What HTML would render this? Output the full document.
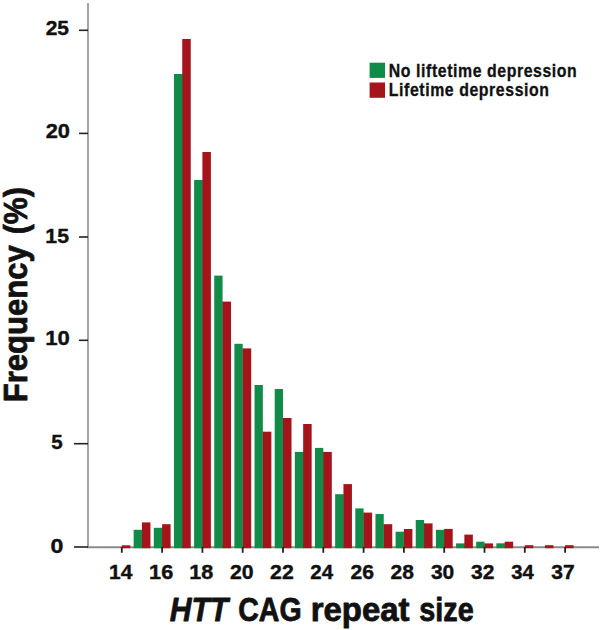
<!DOCTYPE html>
<html><head><meta charset="utf-8"><style>
html,body{margin:0;padding:0;background:#fff;}
svg{display:block;}
text{font-family:"Liberation Sans",sans-serif;font-weight:bold;fill:#111;}
.tl{font-size:21.3px;}
.lg{font-size:17.6px;letter-spacing:0.65px;stroke:#111;stroke-width:0.3px;}
.tt{font-size:33.6px;}
</style></head><body>
<svg width="602" height="630" viewBox="0 0 602 630">
<rect x="0" y="0" width="602" height="630" fill="#fff"/>
<line x1="88" y1="3" x2="88" y2="547" stroke="#a3a3a3" stroke-width="2"/>
<line x1="87" y1="547.3" x2="599" y2="547.3" stroke="#8a8a8a" stroke-width="2"/>
<rect x="121.80" y="545.30" width="8.50" height="2.90" fill="#a5141b"/><rect x="133.65" y="529.80" width="8.30" height="18.40" fill="#118c48"/><rect x="141.75" y="529.80" width="0.9" height="18.40" fill="#118c48"/><rect x="141.95" y="522.40" width="8.50" height="25.80" fill="#a5141b"/><rect x="153.80" y="527.80" width="8.30" height="20.40" fill="#118c48"/><rect x="161.90" y="527.80" width="0.9" height="20.40" fill="#118c48"/><rect x="162.10" y="524.20" width="8.50" height="24.00" fill="#a5141b"/><rect x="173.95" y="74.00" width="8.30" height="474.20" fill="#118c48"/><rect x="182.05" y="74.00" width="0.9" height="474.20" fill="#118c48"/><rect x="182.25" y="39.00" width="8.50" height="509.20" fill="#a5141b"/><rect x="194.10" y="180.00" width="8.30" height="368.20" fill="#118c48"/><rect x="202.20" y="180.00" width="0.9" height="368.20" fill="#118c48"/><rect x="202.40" y="152.00" width="8.50" height="396.20" fill="#a5141b"/><rect x="214.25" y="275.60" width="8.30" height="272.60" fill="#118c48"/><rect x="222.35" y="301.60" width="0.9" height="246.60" fill="#118c48"/><rect x="222.55" y="301.60" width="8.50" height="246.60" fill="#a5141b"/><rect x="234.40" y="343.80" width="8.30" height="204.40" fill="#118c48"/><rect x="242.50" y="348.40" width="0.9" height="199.80" fill="#118c48"/><rect x="242.70" y="348.40" width="8.50" height="199.80" fill="#a5141b"/><rect x="254.55" y="385.00" width="8.30" height="163.20" fill="#118c48"/><rect x="262.65" y="431.70" width="0.9" height="116.50" fill="#118c48"/><rect x="262.85" y="431.70" width="8.50" height="116.50" fill="#a5141b"/><rect x="274.70" y="389.00" width="8.30" height="159.20" fill="#118c48"/><rect x="282.80" y="418.00" width="0.9" height="130.20" fill="#118c48"/><rect x="283.00" y="418.00" width="8.50" height="130.20" fill="#a5141b"/><rect x="294.85" y="451.90" width="8.30" height="96.30" fill="#118c48"/><rect x="302.95" y="451.90" width="0.9" height="96.30" fill="#118c48"/><rect x="303.15" y="424.00" width="8.50" height="124.20" fill="#a5141b"/><rect x="315.00" y="447.90" width="8.30" height="100.30" fill="#118c48"/><rect x="323.10" y="451.90" width="0.9" height="96.30" fill="#118c48"/><rect x="323.30" y="451.90" width="8.50" height="96.30" fill="#a5141b"/><rect x="335.15" y="494.20" width="8.30" height="54.00" fill="#118c48"/><rect x="343.25" y="494.20" width="0.9" height="54.00" fill="#118c48"/><rect x="343.45" y="484.10" width="8.50" height="64.10" fill="#a5141b"/><rect x="355.30" y="508.40" width="8.30" height="39.80" fill="#118c48"/><rect x="363.40" y="512.60" width="0.9" height="35.60" fill="#118c48"/><rect x="363.60" y="512.60" width="8.50" height="35.60" fill="#a5141b"/><rect x="375.45" y="514.00" width="8.30" height="34.20" fill="#118c48"/><rect x="383.55" y="524.20" width="0.9" height="24.00" fill="#118c48"/><rect x="383.75" y="524.20" width="8.50" height="24.00" fill="#a5141b"/><rect x="395.60" y="531.70" width="8.30" height="16.50" fill="#118c48"/><rect x="403.70" y="531.70" width="0.9" height="16.50" fill="#118c48"/><rect x="403.90" y="529.00" width="8.50" height="19.20" fill="#a5141b"/><rect x="415.75" y="520.00" width="8.30" height="28.20" fill="#118c48"/><rect x="423.85" y="523.40" width="0.9" height="24.80" fill="#118c48"/><rect x="424.05" y="523.40" width="8.50" height="24.80" fill="#a5141b"/><rect x="435.90" y="529.80" width="8.30" height="18.40" fill="#118c48"/><rect x="444.00" y="529.80" width="0.9" height="18.40" fill="#118c48"/><rect x="444.20" y="528.90" width="8.50" height="19.30" fill="#a5141b"/><rect x="456.05" y="543.40" width="8.30" height="4.80" fill="#118c48"/><rect x="464.15" y="543.40" width="0.9" height="4.80" fill="#118c48"/><rect x="464.35" y="534.60" width="8.50" height="13.60" fill="#a5141b"/><rect x="476.20" y="541.70" width="8.30" height="6.50" fill="#118c48"/><rect x="484.30" y="543.40" width="0.9" height="4.80" fill="#118c48"/><rect x="484.50" y="543.40" width="8.50" height="4.80" fill="#a5141b"/><rect x="496.35" y="543.30" width="8.30" height="4.90" fill="#118c48"/><rect x="504.45" y="543.30" width="0.9" height="4.90" fill="#118c48"/><rect x="504.65" y="541.70" width="8.50" height="6.50" fill="#a5141b"/><rect x="524.80" y="545.20" width="8.50" height="3.00" fill="#a5141b"/><rect x="544.95" y="545.20" width="8.50" height="3.00" fill="#a5141b"/><rect x="565.10" y="545.20" width="8.50" height="3.00" fill="#a5141b"/>
<line x1="79" y1="30.3" x2="88" y2="30.3" stroke="#222" stroke-width="1.6"/><line x1="79" y1="133.4" x2="88" y2="133.4" stroke="#222" stroke-width="1.6"/><line x1="79" y1="237.0" x2="88" y2="237.0" stroke="#222" stroke-width="1.6"/><line x1="79" y1="340.3" x2="88" y2="340.3" stroke="#222" stroke-width="1.6"/><line x1="74" y1="443.7" x2="88" y2="443.7" stroke="#222" stroke-width="1.6"/><line x1="74" y1="547.0" x2="88" y2="547.0" stroke="#222" stroke-width="1.6"/>
<line x1="121.80" y1="547" x2="121.80" y2="552.8" stroke="#222" stroke-width="1.8"/><line x1="162.10" y1="547" x2="162.10" y2="552.8" stroke="#222" stroke-width="1.8"/><line x1="202.40" y1="547" x2="202.40" y2="552.8" stroke="#222" stroke-width="1.8"/><line x1="242.70" y1="547" x2="242.70" y2="552.8" stroke="#222" stroke-width="1.8"/><line x1="283.00" y1="547" x2="283.00" y2="552.8" stroke="#222" stroke-width="1.8"/><line x1="323.30" y1="547" x2="323.30" y2="552.8" stroke="#222" stroke-width="1.8"/><line x1="363.60" y1="547" x2="363.60" y2="552.8" stroke="#222" stroke-width="1.8"/><line x1="403.90" y1="547" x2="403.90" y2="552.8" stroke="#222" stroke-width="1.8"/><line x1="444.20" y1="547" x2="444.20" y2="552.8" stroke="#222" stroke-width="1.8"/><line x1="484.50" y1="547" x2="484.50" y2="552.8" stroke="#222" stroke-width="1.8"/><line x1="524.80" y1="547" x2="524.80" y2="552.8" stroke="#222" stroke-width="1.8"/><line x1="565.10" y1="547" x2="565.10" y2="552.8" stroke="#222" stroke-width="1.8"/>
<text transform="translate(45.67,34.8) scale(1.0035,1)" style="font-size:20.9px;stroke:#111;stroke-width:0.4px;stroke-linejoin:round">25</text><text transform="translate(45.64,138.00000000000003) scale(1.0438,1)" style="font-size:20.9px;stroke:#111;stroke-width:0.4px;stroke-linejoin:round">20</text><text transform="translate(45.36,242.8) scale(1.0169,1)" style="font-size:20.9px;stroke:#111;stroke-width:0.4px;stroke-linejoin:round">15</text><text transform="translate(45.31,345.40000000000003) scale(1.0585,1)" style="font-size:20.9px;stroke:#111;stroke-width:0.4px;stroke-linejoin:round">10</text><text transform="translate(51.16,448.5) scale(0.9820,1)" style="font-size:20.9px;stroke:#111;stroke-width:0.4px;stroke-linejoin:round">5</text><text transform="translate(50.47,553.3) scale(1.1080,1)" style="font-size:20.9px;stroke:#111;stroke-width:0.4px;stroke-linejoin:round">0</text>
<text transform="translate(108.97,579.4) scale(1.0083,1)" style="font-size:20.9px;stroke:#111;stroke-width:0.4px;stroke-linejoin:round">14</text><text transform="translate(149.07,579.4) scale(1.0391,1)" style="font-size:20.9px;stroke:#111;stroke-width:0.4px;stroke-linejoin:round">16</text><text transform="translate(189.22,579.4) scale(1.0340,1)" style="font-size:20.9px;stroke:#111;stroke-width:0.4px;stroke-linejoin:round">18</text><text transform="translate(229.98,579.4) scale(1.0161,1)" style="font-size:20.9px;stroke:#111;stroke-width:0.4px;stroke-linejoin:round">20</text><text transform="translate(270.12,579.4) scale(1.0151,1)" style="font-size:20.9px;stroke:#111;stroke-width:0.4px;stroke-linejoin:round">22</text><text transform="translate(310.28,579.4) scale(0.9819,1)" style="font-size:20.9px;stroke:#111;stroke-width:0.4px;stroke-linejoin:round">24</text><text transform="translate(350.40,579.4) scale(1.0112,1)" style="font-size:20.9px;stroke:#111;stroke-width:0.4px;stroke-linejoin:round">26</text><text transform="translate(390.54,579.4) scale(1.0063,1)" style="font-size:20.9px;stroke:#111;stroke-width:0.4px;stroke-linejoin:round">28</text><text transform="translate(430.94,579.4) scale(1.0044,1)" style="font-size:20.9px;stroke:#111;stroke-width:0.4px;stroke-linejoin:round">30</text><text transform="translate(471.08,579.4) scale(1.0035,1)" style="font-size:20.9px;stroke:#111;stroke-width:0.4px;stroke-linejoin:round">32</text><text transform="translate(511.23,579.4) scale(0.9711,1)" style="font-size:20.9px;stroke:#111;stroke-width:0.4px;stroke-linejoin:round">34</text><text transform="translate(551.36,579.4) scale(1.0073,1)" style="font-size:20.9px;stroke:#111;stroke-width:0.4px;stroke-linejoin:round">37</text>
<rect x="369.6" y="62.7" width="15.4" height="15.2" fill="#118c48"/>
<rect x="369.6" y="82.5" width="15.4" height="15.3" fill="#a5141b"/>
<text transform="translate(388.84,76.9) scale(0.9,1)" class="lg">No liftetime depression</text>
<text transform="translate(388.84,96.3) scale(0.9,1)" class="lg">Lifetime depression</text>
<text font-style="italic" transform="translate(169.76,620.8000000000001) scale(0.9193,1)" style="font-size:32.7px;stroke:#111;stroke-width:0.8px;stroke-linejoin:round">HTT</text><text transform="translate(238.23,620.8000000000001) scale(0.8717,1)" style="font-size:32.7px;stroke:#111;stroke-width:0.8px;stroke-linejoin:round">CAG</text><text transform="translate(310.63,620.8000000000001) scale(1.0075,1)" style="font-size:32.7px;stroke:#111;stroke-width:0.8px;stroke-linejoin:round">repeat</text><text transform="translate(419.29,620.8000000000001) scale(0.8817,1)" style="font-size:32.7px;stroke:#111;stroke-width:0.8px;stroke-linejoin:round">size</text><text transform="translate(26.900000000000002,402.18) rotate(-90) scale(0.9584,1)" style="font-size:32.4px;stroke:#111;stroke-width:0.8px;stroke-linejoin:round">Frequency</text><text transform="translate(26.900000000000002,234.31) rotate(-90) scale(0.9334,1)" style="font-size:32.4px;stroke:#111;stroke-width:0.8px;stroke-linejoin:round">(%)</text>
</svg>
</body></html>
